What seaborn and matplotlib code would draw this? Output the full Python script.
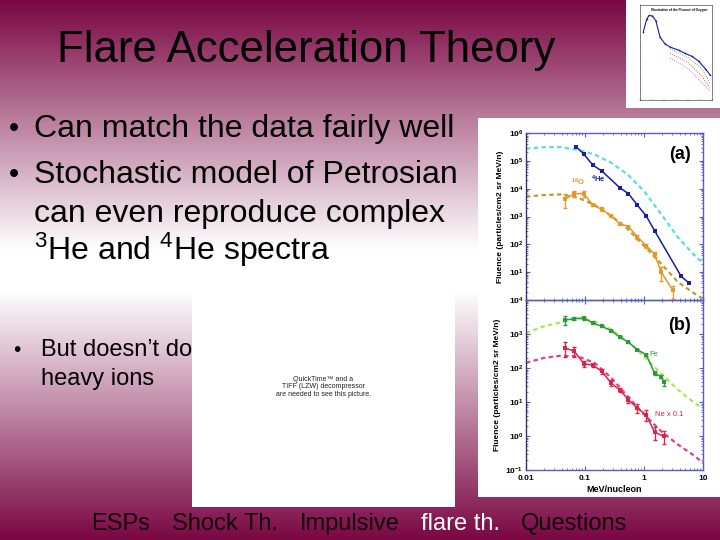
import numpy as np
import pandas as pd
import matplotlib
matplotlib.use('Agg')
import matplotlib.pyplot as plt
import matplotlib.ticker as mticker
import seaborn as sns

sns.set_style('ticks')
plt.rcParams['font.family'] = ['Liberation Sans', 'DejaVu Sans']
plt.rcParams['mathtext.fontset'] = 'custom'
plt.rcParams['mathtext.rm'] = 'Liberation Sans'
plt.rcParams['mathtext.it'] = 'Liberation Sans:italic'
plt.rcParams['mathtext.bf'] = 'Liberation Sans:bold'
plt.rcParams['text.color'] = 'black'
plt.rcParams['axes.labelcolor'] = 'black'
plt.rcParams['xtick.labelcolor'] = 'black'
plt.rcParams['ytick.labelcolor'] = 'black'

# ---- slide text ----
title = 'Flare Acceleration Theory'
bullets_main = ['Can match the data fairly well',
                'Stochastic model of Petrosian',
                'can even reproduce complex',
                r'$\mathregular{^3}$He and $\mathregular{^4}$He spectra']
bullets_small = ['But doesn\u2019t do', 'heavy ions']
footer_items = ['ESPs', 'Shock Th.', 'Impulsive', 'flare th.', 'Questions']
footer_x = [91, 172, 300, 421, 521]
qt_lines = ['QuickTime\u2122 and a', 'TIFF (LZW) decompressor',
            'are needed to see this picture.']

# ---- panel (a): 4He and 16O ----
model_x = [0.01, 0.02, 0.039, 0.075, 0.145, 0.28, 0.53, 1.0, 1.96, 3.76, 7.2, 10]
he_model = [2.75e5, 3.1e5, 3.1e5, 2.5e5, 1.7e5, 8.5e4, 3.2e4, 8.3e3, 1.2e3, 178, 40, 21]
o_model = [5.2e3, 5.9e3, 6.2e3, 4.8e3, 2.6e3, 1.05e3, 350, 89, 20, 4.4, 1.7, 1.1]

he_x = [0.0706, 0.095, 0.136, 0.193, 0.385, 0.546, 0.767, 1.09, 1.51, 4.28, 5.7]
he_y = [3.2e5, 1.78e5, 7.0e4, 4.3e4, 1.1e4, 6.6e3, 2.6e3, 1.05e3, 310, 7.0, 4.2]

o_x = [0.046, 0.066, 0.095, 0.136, 0.193, 0.277, 0.385, 0.546, 0.767, 1.09, 1.51, 1.96, 3.1]
o_y = [4.2e3, 6.6e3, 6.6e3, 2.6e3, 1.8e3, 1.05e3, 560, 430, 190, 89, 45, 10, 2.2]
o_err = [0.5, 0.25, 0.25, 0.1, 0.1, 0.1, 0.1, 0.1, 0.15, 0.15, 0.2, 0.5, 0.5]

# ---- panel (b): Fe and Ne x 0.1 ----
fe_model = [1.07e3, 1.68e3, 2.2e3, 2.95e3, 2.36e3, 1.34e3, 610, 218, 68, 23, 9.3, 6.6]
ne_model = [142, 197, 230, 220, 142, 51, 14.7, 4.3, 1.38, 0.56, 0.26, 0.16]

fe_x = [0.046, 0.066, 0.095, 0.136, 0.193, 0.277, 0.385, 0.546, 0.767, 1.09, 1.51, 1.96, 2.15]
fe_y = [2.6e3, 2.8e3, 2.95e3, 2.1e3, 1.68e3, 1.25e3, 820, 570, 350, 245, 71, 55, 38]
fe_err = [0.3, 0.1, 0.1, 0.05, 0.05, 0.05, 0.05, 0.05, 0.05, 0.05, 0.1, 0.1, 0.2]

ne_x = [0.046, 0.066, 0.095, 0.136, 0.193, 0.277, 0.385, 0.546, 0.767, 1.09, 1.51, 2.15]
ne_y = [390, 310, 135, 120, 80, 36, 23, 11.7, 6.6, 4.2, 1.3, 0.98]
ne_err = [0.45, 0.3, 0.2, 0.1, 0.15, 0.2, 0.15, 0.2, 0.3, 0.35, 0.4, 0.4]

# ---- thumbnail (axes-fraction units) ----
th_blue_x = [0.047, 0.093, 0.126, 0.172, 0.219, 0.279, 0.349, 0.419, 0.535, 0.628, 0.721, 0.814, 0.907, 0.977]
th_blue_y = [0.72, 0.85, 0.89, 0.885, 0.836, 0.66, 0.59, 0.557, 0.525, 0.49, 0.46, 0.41, 0.33, 0.26]
th_lines_x = [0.419, 0.674, 0.86, 0.97]
th_green_y = [0.54, 0.44, 0.33, 0.18]
th_red_y = [0.49, 0.39, 0.25, 0.13]
th_mag_y = [0.44, 0.33, 0.18, 0.10]

maroon = np.array([122, 7, 67]) / 255
W, H = 720, 540


def fig_rect(x0, y0, x1, y1):
    """ pixel box (top-left origin) -> figure fraction rect """
    return [x0 / W, 1 - y1 / H, (x1 - x0) / W, (y1 - y0) / H]


fig = plt.figure(figsize=(7.2, 5.4), dpi=100)

# background gradient maroon -> white -> maroon
bg = fig.add_axes([0, 0, 1, 1], zorder=0)
rows = np.arange(H)
stops = [0, 250, 290, H - 1]
grad = np.zeros((H, 1, 3))
for c in range(3):
    grad[:, 0, c] = np.interp(rows, stops, [maroon[c], 1, 1, maroon[c]])
bg.imshow(grad, aspect='auto', extent=[0, 1, 0, 1])
bg.axis('off')

# slide texts
fig.text(306 / W, 1 - 62 / H, title, fontsize=31.5, ha='center', va='baseline', zorder=3)
for txt, yb, bul in zip(bullets_main, [137, 183, 222, 260], [True, True, False, False]):
    if bul:
        fig.text(14 / W, 1 - yb / H, '\u2022', fontsize=21, ha='center', va='baseline')
    fig.text(34 / W, 1 - yb / H, txt, fontsize=23, ha='left', va='baseline')
for txt, yb, bul in zip(bullets_small, [356, 385], [True, False]):
    if bul:
        fig.text(17 / W, 1 - yb / H, '\u2022', fontsize=15, ha='center', va='baseline')
    fig.text(41 / W, 1 - yb / H, txt, fontsize=17, ha='left', va='baseline')
for txt, xp in zip(footer_items, footer_x):
    col = 'white' if txt == 'flare th.' else '#120008'
    fig.text(xp / W, 1 - 530 / H, txt, fontsize=17, ha='left', va='baseline', color=col)

# QuickTime placeholder box
qt = fig.add_axes(fig_rect(192, 277, 455, 507), zorder=5)
qt.set_facecolor('white')
qt.set_xticks([]); qt.set_yticks([])
for s in qt.spines.values():
    s.set_visible(False)
for i, line in enumerate(qt_lines):
    qt.text(0.5, 0.555 - i * 0.032, line, fontsize=5, ha='center', va='center',
            transform=qt.transAxes, color='#222222')

# thumbnail top right
tb = fig.add_axes(fig_rect(626, 0, 720, 108), zorder=1)
tb.set_facecolor('white')
tb.set_xticks([]); tb.set_yticks([])
for s in tb.spines.values():
    s.set_visible(False)
ti = fig.add_axes(fig_rect(640, 5, 712, 100), zorder=2)
ti.patch.set_alpha(0)
sns.lineplot(x=th_blue_x, y=th_blue_y, ax=ti, color='#1a1a9a', lw=0.8,
             marker='o', markersize=1.2, markeredgewidth=0)
for ys, c in [(th_green_y, '#2a9a2a'), (th_red_y, '#cc2222'), (th_mag_y, '#cc44cc')]:
    sns.lineplot(x=th_lines_x, y=ys, ax=ti, color=c, lw=0.6, linestyle=':')
ti.text(0.55, 0.97, 'Illustration of the Fluence of Oxygen', fontsize=2.3,
        ha='center', va='top', fontweight='bold')
ti.set_xlim(0, 1); ti.set_ylim(0, 1)
ti.set_xticks(np.linspace(0, 1, 7)); ti.set_yticks(np.linspace(0, 1, 10))
ti.set_xticklabels([]); ti.set_yticklabels([])
ti.tick_params(length=1, width=0.3, direction='in')
for s in ti.spines.values():
    s.set_linewidth(0.4)

# chart white background
cb = fig.add_axes(fig_rect(478, 118, 720, 497), zorder=1)
cb.set_facecolor('white')
cb.set_xticks([]); cb.set_yticks([])
for s in cb.spines.values():
    s.set_visible(False)

spine_col = '#5a5ac8'
ax_a = fig.add_axes(fig_rect(526, 133, 703, 300), zorder=2)
ax_b = fig.add_axes(fig_rect(526, 300, 703, 470), zorder=2)

# panel (a)
sns.lineplot(x=model_x, y=he_model, ax=ax_a, color='#55dde8', lw=1.6, linestyle=(0, (2, 1.5)))
sns.lineplot(x=model_x, y=o_model, ax=ax_a, color='#b8a030', lw=1.6, linestyle=(0, (2, 1.5)))
sns.lineplot(x=he_x, y=he_y, ax=ax_a, color='#1c1ca0', lw=1.1, marker='s',
             markersize=3, markeredgewidth=0)
ax_a.errorbar(o_x, o_y, yerr=np.array(o_y) * np.array(o_err), fmt='none',
              ecolor='#e8962a', elinewidth=0.9, capsize=1.5)
sns.lineplot(x=o_x, y=o_y, ax=ax_a, color='#e8962a', lw=1.1, marker='s',
             markersize=2.5, markeredgewidth=0)
ax_a.text(0.125, 1.6e4, r'$\mathregular{^4}$He', fontsize=5.5, color='#1c1ca0', fontweight='bold')
ax_a.text(0.058, 1.3e4, r'$\mathregular{^{16}}$O', fontsize=5.5, color='#e8962a', fontweight='bold')
ax_a.text(0.93, 0.87, '(a)', fontsize=13, fontweight='bold', transform=ax_a.transAxes,
          ha='right', va='center')
ax_a.set_ylim(1, 1e6)

# panel (b)
sns.lineplot(x=model_x, y=fe_model, ax=ax_b, color='#a6e85a', lw=1.6, linestyle=(0, (2, 1.5)))
sns.lineplot(x=model_x, y=ne_model, ax=ax_b, color='#e03c9a', lw=1.6, linestyle=(0, (2, 1.5)))
ax_b.errorbar(fe_x, fe_y, yerr=np.array(fe_y) * np.array(fe_err), fmt='none',
              ecolor='#2a9a3a', elinewidth=0.9, capsize=1.5)
sns.lineplot(x=fe_x, y=fe_y, ax=ax_b, color='#2a9a3a', lw=1.1, marker='s',
             markersize=2.5, markeredgewidth=0)
ax_b.errorbar(ne_x, ne_y, yerr=np.array(ne_y) * np.array(ne_err), fmt='none',
              ecolor='#dd2244', elinewidth=0.9, capsize=1.5)
sns.lineplot(x=ne_x, y=ne_y, ax=ax_b, color='#dd2244', lw=1.1, marker='s',
             markersize=2.5, markeredgewidth=0)
ax_b.text(1.25, 230, 'Fe', fontsize=5.5, color='#2a9a3a')
ax_b.text(1.55, 4, 'Ne x 0.1', fontsize=5.5, color='#dd2244')
ax_b.text(0.93, 0.85, '(b)', fontsize=13, fontweight='bold', transform=ax_b.transAxes,
          ha='right', va='center')
ax_b.set_ylim(0.1, 1e4)
ax_b.set_xlabel('MeV/nucleon', fontsize=6.5, fontweight='bold', labelpad=2)

for ax in (ax_a, ax_b):
    ax.set_xscale('log'); ax.set_yscale('log')
    ax.set_xlim(0.01, 10)
    ax.set_facecolor('none')
    ax.set_ylabel('Fluence (particles/cm2 sr MeV/n)', fontsize=6, fontweight='bold', labelpad=3)
    ax.yaxis.set_major_locator(mticker.LogLocator(base=10, numticks=12))
    ax.yaxis.set_minor_locator(mticker.LogLocator(base=10, subs=np.arange(2, 10), numticks=12))
    ax.tick_params(which='both', direction='in', top=True, right=True, color=spine_col,
                   labelsize=6, pad=2)
    ax.tick_params(which='major', length=3, width=0.8)
    ax.tick_params(which='minor', length=1.5, width=0.6)
    for s in ax.spines.values():
        s.set_color(spine_col); s.set_linewidth(1.0)
    ax.spines['left'].set_color('#333366')

ax_a.xaxis.set_major_formatter(mticker.NullFormatter())
# panel (a) bottom decade label sits on top of panel (b)'s 10^4, keep only one
ax_a.yaxis.set_major_formatter(mticker.FuncFormatter(
    lambda v, _: '' if v < 2 else f'$\\mathregular{{10^{{{int(round(np.log10(v)))}}}}}$'))
ax_b.xaxis.set_major_formatter(mticker.FuncFormatter(lambda v, _: f'{v:g}'))
ax_b.tick_params(axis='x', pad=3.5)
fig.canvas.draw()
for lab in ax_b.get_xticklabels() + ax_b.get_yticklabels() + ax_a.get_yticklabels():
    lab.set_fontweight('bold')

fig.savefig('out.png', dpi=100)
